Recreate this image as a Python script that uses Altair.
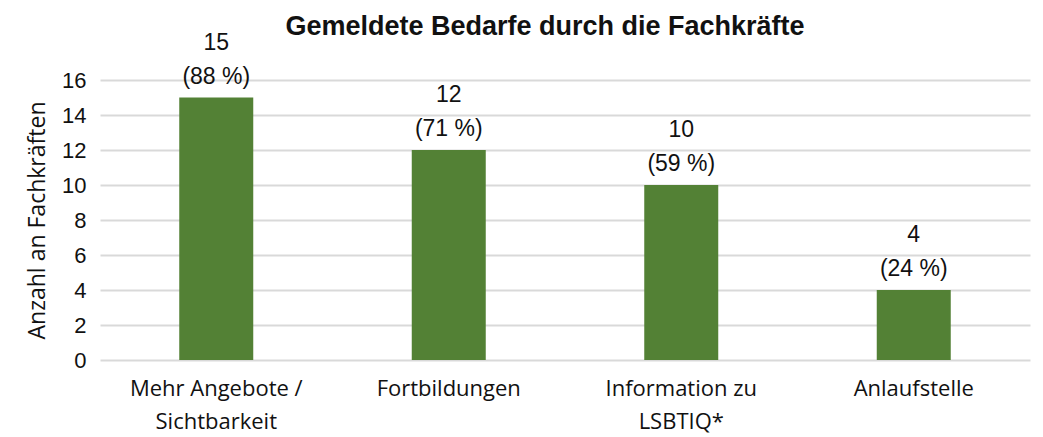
import altair as alt
import pandas as pd

categories = ["Mehr Angebote /|Sichtbarkeit", "Fortbildungen", "Information zu|LSBTIQ*", "Anlaufstelle"]
values = [15, 12, 10, 4]
percents = ["(88 %)", "(71 %)", "(59 %)", "(24 %)"]

df = pd.DataFrame({"cat": categories, "val": values, "pct": percents})
df["valtxt"] = df["val"].astype(str)

x = alt.X("cat:N", sort=categories, title=None,
          scale=alt.Scale(paddingInner=0.68, paddingOuter=0.34),
          axis=alt.Axis(labelExpr="split(datum.label, '|')", labelAngle=0,
                        labelFontSize=22, labelFont="Open Sans", labelColor="#111111",
                        labelPadding=18, labelLineHeight=33, ticks=False, domain=False))
y = alt.Y("val:Q", title="Anzahl an Fachkräften",
          scale=alt.Scale(domain=[0, 16]),
          axis=alt.Axis(values=list(range(0, 17, 2)), labelFontSize=22, labelFont="Liberation Sans",
                        labelColor="#111111", labelPadding=14, ticks=False, domain=False,
                        gridColor="#d9d9d9", gridWidth=2,
                        titleFontSize=23, titleFont="Open Sans", titleFontWeight="normal",
                        titleColor="#111111", titlePadding=12))

base = alt.Chart(df).encode(x=x, y=y)
bars = base.mark_bar(color="#538135", size=74)
t1 = base.mark_text(dy=-48, baseline="alphabetic", fontSize=23, font="Liberation Sans", color="#111111").encode(text="valtxt:N")
t2 = base.mark_text(dy=-14, baseline="alphabetic", fontSize=23, font="Liberation Sans", color="#111111").encode(text="pct:N")

chart = alt.layer(bars, t1, t2).properties(
    width=930, height=280,
    title=alt.TitleParams("Gemeldete Bedarfe durch die Fachkräfte", fontSize=27,
                          font="Liberation Sans", fontWeight="bold", color="#111111",
                          anchor="middle", dx=-20, dy=11, offset=2),
    autosize="none",
    padding={"left": 100, "top": 80, "right": 13, "bottom": 77},
).configure_view(stroke=None)

chart.save("out.html", embed_options={"renderer": "svg", "actions": False})
